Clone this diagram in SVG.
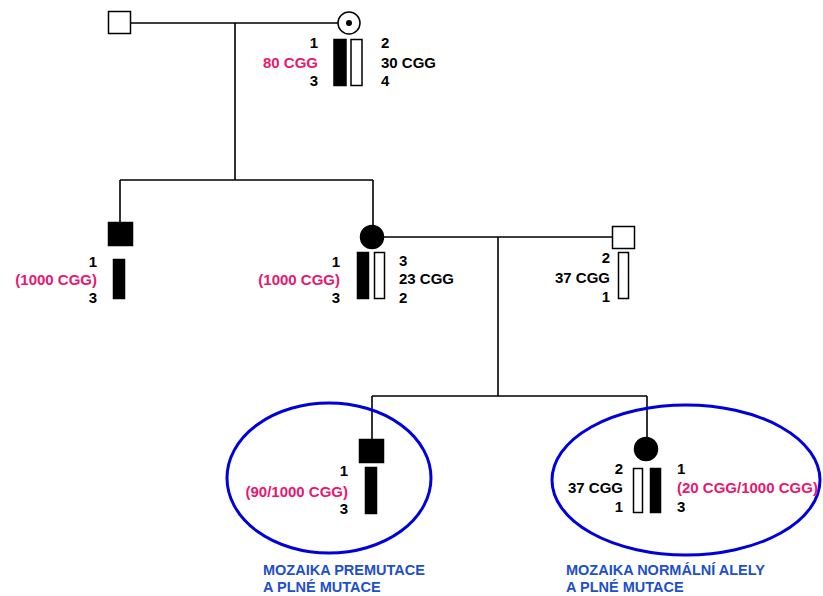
<svg xmlns="http://www.w3.org/2000/svg" width="823" height="596" viewBox="0 0 823 596">
<style>
text{font-family:"Liberation Sans",Arial,sans-serif;font-weight:bold;font-size:15px;fill:#000}
.r{text-anchor:end}
.red{fill:#e8176f}
.lbl{fill:#1e50c8;font-size:14.5px}
.ln{stroke:#000;stroke-width:1.6;fill:none}
.aff{fill:#000;stroke:#000;stroke-width:1.5}
.un{fill:#fff;stroke:#000;stroke-width:1.5}
.ell{fill:none;stroke:#0000dd;stroke-width:3}
</style>
<rect width="823" height="596" fill="#fff"/>
<g id="connectors">
<path class="ln" d="M131 23H338M235 23V180M120 180H373M120 180V222M373 180V226M384 237H612M498 237V396M372 396H647M372 396V439M647 396V437"/>
</g>
<g id="gf">
<rect class="un" x="108.5" y="11.5" width="22" height="22"/>
</g>
<g id="gm">
<circle class="un" cx="349" cy="23" r="11"/>
<circle cx="349" cy="23" r="3" fill="#000"/>
<rect class="aff" x="334" y="39.5" width="12" height="46"/>
<rect class="un" x="351" y="39.5" width="11" height="46"/>
<text class="r" x="318" y="48">1</text>
<text class="r red" x="318" y="68">80 CGG</text>
<text class="r" x="318" y="86">3</text>
<text x="381" y="48">2</text>
<text x="381" y="68">30 CGG</text>
<text x="381" y="86">4</text>
</g>
<g id="son">
<rect class="aff" x="108.5" y="222.5" width="24" height="23"/>
<rect class="aff" x="113.5" y="259.5" width="11" height="39"/>
<text class="r" x="97" y="267">1</text>
<text class="r red" x="97" y="285">(1000 CGG)</text>
<text class="r" x="97" y="303">3</text>
</g>
<g id="daughter">
<circle class="aff" cx="372" cy="237" r="11.5"/>
<rect class="aff" x="357.5" y="252.5" width="11" height="46"/>
<rect class="un" x="374.5" y="252.5" width="10" height="46"/>
<text class="r" x="340" y="267">1</text>
<text class="r red" x="340" y="285">(1000 CGG)</text>
<text class="r" x="340" y="303">3</text>
<text x="399" y="266">3</text>
<text x="399" y="284">23 CGG</text>
<text x="399" y="303">2</text>
</g>
<g id="husband">
<rect class="un" x="612.5" y="226.5" width="22" height="22"/>
<rect class="un" x="618.5" y="252.5" width="10" height="46"/>
<text class="r" x="610" y="263">2</text>
<text class="r" x="610" y="283">37 CGG</text>
<text class="r" x="610" y="302">1</text>
</g>
<g id="grandson">
<ellipse class="ell" cx="329" cy="478" rx="102" ry="75"/>
<rect class="aff" x="359.5" y="439.5" width="24" height="23"/>
<rect class="aff" x="365.5" y="467.5" width="11" height="46"/>
<text class="r" x="348" y="476">1</text>
<text class="r red" x="348" y="497">(90/1000 CGG)</text>
<text class="r" x="348" y="514">3</text>
<text class="lbl" x="263" y="575">MOZAIKA PREMUTACE</text>
<text class="lbl" x="263" y="592">A PLNÉ MUTACE</text>
</g>
<g id="granddaughter">
<ellipse class="ell" cx="686" cy="480" rx="134" ry="75"/>
<circle class="aff" cx="646" cy="449" r="11.5"/>
<rect class="un" x="633.5" y="468.5" width="9" height="44"/>
<rect class="aff" x="650.5" y="468.5" width="10" height="44"/>
<text class="r" x="623" y="474">2</text>
<text class="r" x="623" y="493">37 CGG</text>
<text class="r" x="623" y="512">1</text>
<text x="677" y="474">1</text>
<text class="red" x="677" y="493">(20 CGG/1000 CGG)</text>
<text x="677" y="512">3</text>
<text class="lbl" x="566" y="575">MOZAIKA NORMÁLNÍ ALELY</text>
<text class="lbl" x="566" y="592">A PLNÉ MUTACE</text>
</g>
</svg>
